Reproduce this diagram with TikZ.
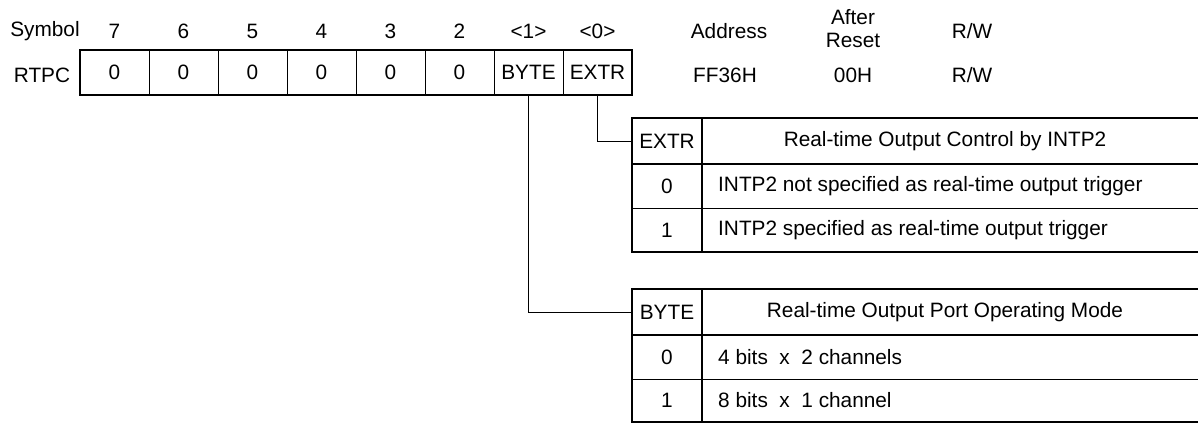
\documentclass[tikz,border=0pt]{standalone}
\usepackage{fontspec}
\setmainfont{Liberation Sans}
\begin{document}
\begin{tikzpicture}[x=1pt,y=-1pt,
  txt/.style={inner sep=0pt,font=\fontsize{20.8}{23}\selectfont},
  thin/.style={line width=0.9pt},
  thick/.style={line width=2pt},
  cell/.style={txt,minimum width=69pt,minimum height=45pt}]
\useasboundingbox (0,0) rectangle (1198,423);
\clip (0,0) rectangle (1198,423);
% header row
\node[txt] (symb) at (45,31) {Symbol};
\foreach \b/\i in {7/0,6/1,5/2,4/3,3/4,2/5} {
  \node[txt] (h\b) at ({114.5+69*\i},31) {\b};
}
\node[txt] (h1) at (528.5,31) {<1>};
\node[txt] (h0) at (597.5,31) {<0>};
\node[txt] (addr) at (729,31) {Address};
\node[txt,align=center] (aft) at (853,29) {After\\Reset};
\node[txt] (rw) at (972,31) {R/W};
% register row
\node[txt] (rtpc) at (42,75) {RTPC};
\foreach \b/\i in {7/0,6/1,5/2,4/3,3/4,2/5} {
  \node[cell,draw,thin] (c\b) at ({114.5+69*\i},72.5) {0};
}
\node[cell,draw,thin] (c1) at (528.5,72.5) {BYTE};
\node[cell,draw,thin] (c0) at (597.5,72.5) {EXTR};
\draw[thick] (c7.north west) rectangle (c0.south east);
\node[txt] (addrv) at (725,75) {FF36H};
\node[txt] (aftv) at (853,75) {00H};
\node[txt] (rwv) at (972,75) {R/W};
% EXTR table
\node[txt,minimum width=70pt,minimum height=46pt] (ek) at (667,141) {EXTR};
\node[txt] (ed) at (945,141) {Real-time Output Control by INTP2};
\node[txt] (e0k) at (667,186) {0};
\node[txt,anchor=west] (e0d) at (718,186) {INTP2 not specified as real-time output trigger};
\node[txt] (e1k) at (667,230) {1};
\node[txt,anchor=west] (e1d) at (718,230) {INTP2 specified as real-time output trigger};
\draw[thin] (632,208) -- (1210,208);
\draw[thick] (632,164) -- (1210,164);
\draw[thick] (702,118) -- (702,252);
\draw[thick] (1210,118) -- (632,118) -- (632,252) -- (1210,252);
% BYTE table
\node[txt,minimum width=70pt,minimum height=46pt] (bk) at (667,312) {BYTE};
\node[txt] (bd) at (945,312) {Real-time Output Port Operating Mode};
\node[txt] (b0k) at (667,357) {0};
\node[txt,anchor=west] (b0d) at (718,357) {4 bits\ \ x\ \ 2 channels};
\node[txt] (b1k) at (667,400.5) {1};
\node[txt,anchor=west] (b1d) at (718,400.5) {8 bits\ \ x\ \ 1 channel};
\draw[thin] (632,379) -- (1210,379);
\draw[thick] (632,335) -- (1210,335);
\draw[thick] (702,289) -- (702,421.5);
\draw[thick] (1210,289) -- (632,289) -- (632,421.5) -- (1210,421.5);
% connectors
\draw[thin] (c0.south) |- (ek.west);
\draw[thin] (c1.south) |- (bk.west);
\end{tikzpicture}
\end{document}
